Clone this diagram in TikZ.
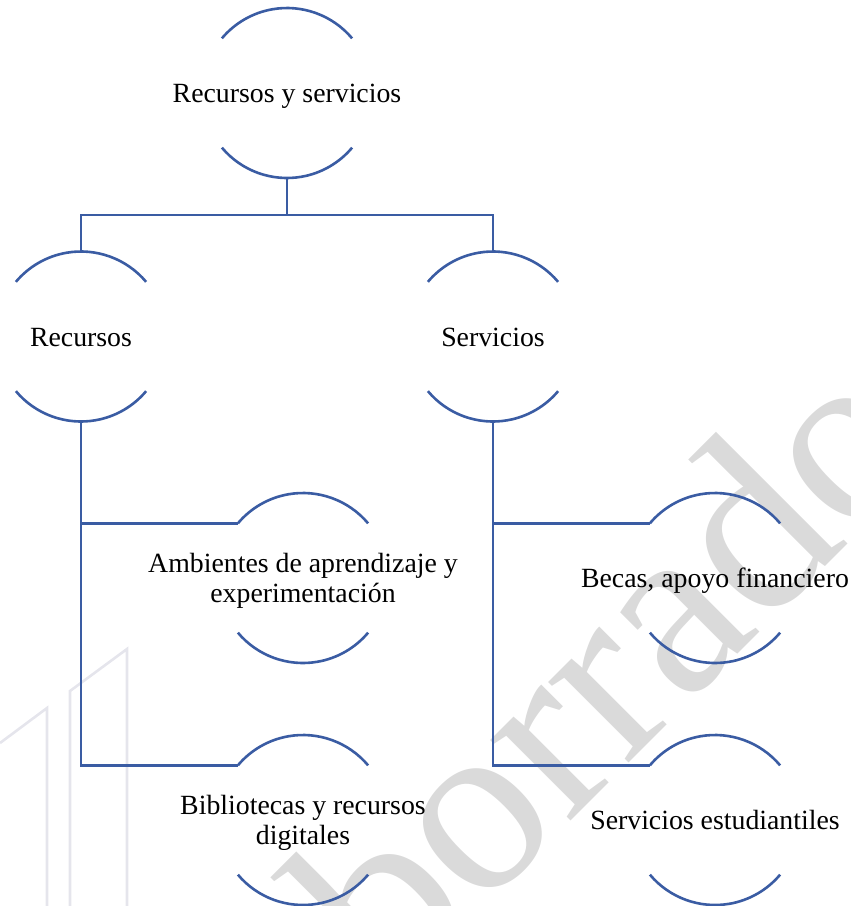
\documentclass[tikz,border=0pt]{standalone}
\usepackage{fontspec}
\setmainfont{Liberation Serif}
\definecolor{lineblue}{RGB}{58,92,163}
\definecolor{wmgray}{RGB}{218,218,218}
\definecolor{bldgray}{RGB}{229,229,236}
\begin{document}
\begin{tikzpicture}[x=1pt,y=1pt,
  frame/.style={circle,minimum size=170pt,inner sep=0pt,outer sep=0pt},
  txt/.style={font=\fontsize{27.8}{30}\selectfont,align=center,inner sep=0pt,yshift=-3.5pt},
  conn/.style={draw=lineblue,line width=2.6pt},
  bld/.style={draw=bldgray,line width=2.6pt},
  ]
\useasboundingbox (0,0) rectangle (851,-906);
% watermark and background outline
\begin{scope}
\clip (0,0) rectangle (851,-906);
\node[anchor=base west,rotate=45,inner sep=0pt,text=wmgray,
      font=\fontsize{248}{248}\selectfont] (wm) at (392,-1000) {borrador};
\draw[bld] (0,-743) -- (47,-708) -- (47,-912);
\draw[bld] (70,-912) -- (70,-691) -- (127,-649) -- (127,-912);
\end{scope}
% frames
\node[frame] (root) at (287,-93) {};
\node[frame] (rec) at (81,-336.5) {};
\node[frame] (ser) at (493,-336.5) {};
\node[frame] (amb) at (303,-578) {};
\node[frame] (bib) at (303,-820) {};
\node[frame] (bec) at (715,-578) {};
\node[frame] (est) at (715,-820) {};
% texts
\node[txt] (rootT) at (root.center) {\strut Recursos y servicios};
\node[txt] (recT) at (rec.center) {\strut Recursos};
\node[txt] (serT) at (ser.center) {\strut Servicios};
\node[txt] (ambT) at (amb.center) {\strut Ambientes de aprendizaje y\\\strut experimentación};
\node[txt] (bibT) at (bib.center) {\strut Bibliotecas y recursos\\\strut digitales};
\node[txt] (becT) at (bec.center) {\strut Becas, apoyo financiero};
\node[txt] (estT) at (est.center) {\strut Servicios estudiantiles};
% arcs
\foreach \n in {root,rec,ser,amb,bib,bec,est}{
  \draw[conn] (\n.40) arc[start angle=40,end angle=140,radius=85pt];
  \draw[conn] (\n.-140) arc[start angle=-140,end angle=-40,radius=85pt];
}
% connectors
\coordinate (bus) at (287,-215);
\draw[conn] (root.south) -- (bus);
\draw[conn] (rec.north) |- (bus) -| (ser.north);
\draw[conn] (rec.south) |- (amb.140);
\draw[conn] (rec.south) |- (bib.140);
\draw[conn] (ser.south) |- (bec.140);
\draw[conn] (ser.south) |- (est.140);
\end{tikzpicture}
\end{document}
